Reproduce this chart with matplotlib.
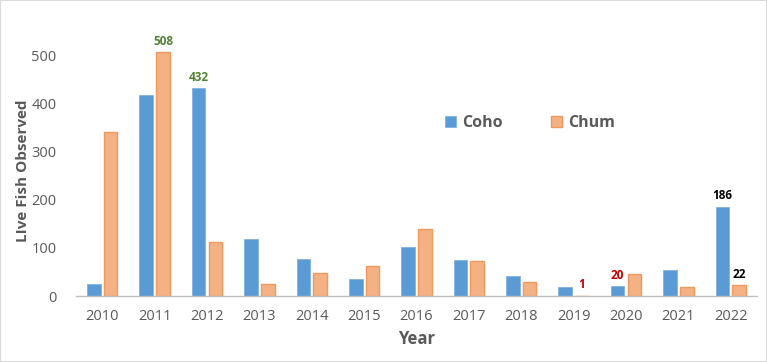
import numpy as np
import matplotlib
matplotlib.use("Agg")
import matplotlib.pyplot as plt
from matplotlib.patches import Rectangle

years = ["2010", "2011", "2012", "2013", "2014", "2015", "2016",
         "2017", "2018", "2019", "2020", "2021", "2022"]
coho = [24, 418, 432, 118, 77, 36, 103, 74, 42, 19, 20, 54, 186]
chum = [341, 508, 112, 26, 47, 63, 139, 73, 30, 1, 46, 18, 22]

# (series, index, text, colour) for the value labels shown in the reference
labels = [
    ("chum", 1, "508", "#548235"),
    ("coho", 2, "432", "#548235"),
    ("chum", 9, "1", "#C00000"),
    ("coho", 10, "20", "#C00000"),
    ("coho", 12, "186", "#000000"),
    ("chum", 12, "22", "#000000"),
]

COHO = "#5B9BD5"
CHUM = "#F4B183"
CHUM_EDGE = "#EE9A5E"
GREY = "#595959"

plt.rcParams["font.family"] = ["Open Sans", "DejaVu Sans"]

fig = plt.figure(figsize=(7.67, 3.62), dpi=100)
ax = fig.add_axes([76 / 767, 1 - 296 / 362, 681 / 767, 270 / 362])

x = np.arange(len(years))
w = 0.26
off = 0.16
ax.bar(x - off, coho, w, color=COHO, edgecolor="#7FB2E0", linewidth=0.6,
       label="Coho")
ax.bar(x + off, chum, w, color=CHUM, edgecolor=CHUM_EDGE, linewidth=1.0,
       label="Chum")

series = {"coho": (coho, -off), "chum": (chum, off)}
for s, i, txt, col in labels:
    vals, o = series[s]
    ax.text(x[i] + o, vals[i] + 9, txt, ha="center", va="bottom",
            fontsize=8.5, fontweight="bold", color=col)

ax.set_xlim(-0.5, len(years) - 0.5)
ax.set_ylim(0, 562)
ax.set_yticks(range(0, 501, 100))
ax.set_xticks(x)
ax.set_xticklabels(years)
ax.tick_params(axis="both", length=0, labelsize=10.5, colors=GREY)
ax.tick_params(axis="y", pad=14)
ax.tick_params(axis="x", pad=9)
for sp in ["left", "right", "top"]:
    ax.spines[sp].set_visible(False)
ax.spines["bottom"].set_color("#BFBFBF")
ax.spines["bottom"].set_linewidth(1.0)

ax.set_ylabel("LIve Fish Observed", fontsize=11, fontweight="bold",
              color=GREY)
ax.yaxis.set_label_coords(-0.067, 0.463)
ax.set_xlabel("Year", fontsize=12, fontweight="bold", color=GREY, labelpad=5)

leg = ax.legend(loc="center", ncol=2, frameon=False,
                fontsize=11.5, columnspacing=3.0, handlelength=0.7,
                handleheight=0.7, handletextpad=0.4)
leg.set_bbox_to_anchor((530 / 767, 1 - 123 / 362), transform=fig.transFigure)
for t in leg.get_texts():
    t.set_fontweight("bold")
    t.set_color(GREY)

fig.patches.append(Rectangle((0, 0), 1, 1, transform=fig.transFigure,
                             fill=False, edgecolor="#D9D9D9", linewidth=1.5))

fig.savefig("out.png", dpi=100)
